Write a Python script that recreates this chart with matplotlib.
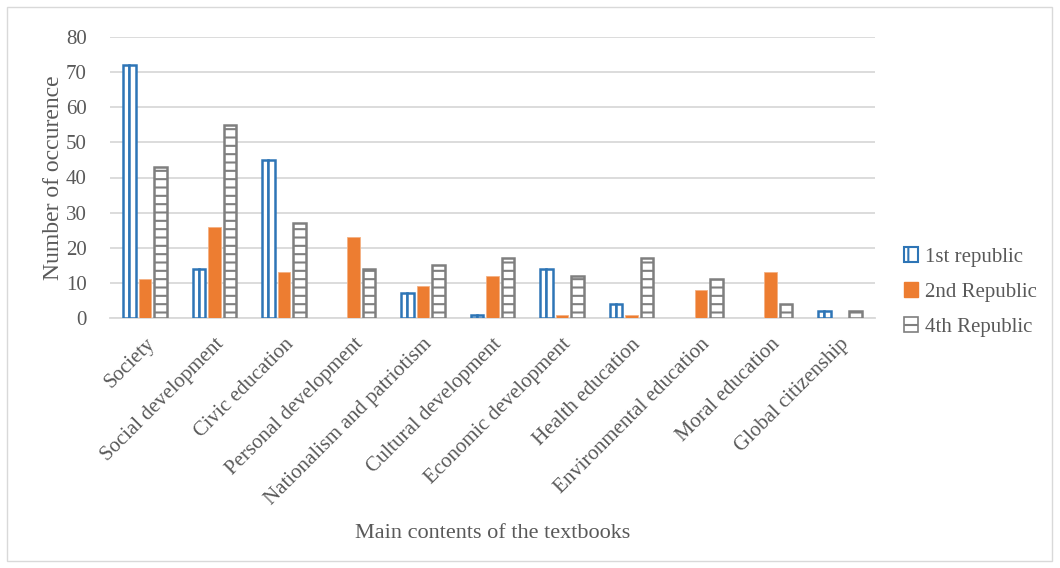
import numpy as np
import matplotlib
matplotlib.use("Agg")
import matplotlib.pyplot as plt
from matplotlib.patches import Patch, Rectangle

categories = ['Society', 'Social development', 'Civic education', 'Personal development',
              'Nationalism and patriotism', 'Cultural development', 'Economic development',
              'Health education', 'Environmental education', 'Moral education',
              'Global citizenship']
first_rep = [72, 14, 45, 0, 7, 1, 14, 4, 0, 0, 2]
second_rep = [11, 26, 13, 23, 9, 12, 1, 1, 8, 13, 0]
fourth_rep = [43, 55, 27, 14, 15, 17, 12, 17, 11, 4, 2]
series_names = ['1st republic', '2nd Republic', '4th Republic']

plt.rcParams['font.family'] = ['Liberation Serif', 'DejaVu Serif']
plt.rcParams['hatch.linewidth'] = 1.5

blue = '#2E75B6'
orange = '#ED7D31'
gray = '#7F7F7F'
text_c = '#595959'

fig = plt.figure(figsize=(10.6, 5.68), dpi=100)
ax = fig.add_axes([0.104, 0.44, 0.721, 0.495])

x = np.arange(len(categories))
w = 0.18
step = 0.223


def nz(vals):
    # keep only non-zero bars so empty values draw no edge line
    v = np.array(vals)
    m = v > 0
    return x[m], v[m]


x1, v1 = nz(first_rep)
x2, v2 = nz(second_rep)
x4, v4 = nz(fourth_rep)

# 1st republic: outlined bar split down the middle (two half bars)
ax.bar(x1 - step - w / 4, v1, w / 2, facecolor='white', edgecolor=blue, linewidth=1.8, zorder=3)
ax.bar(x1 - step + w / 4, v1, w / 2, facecolor='white', edgecolor=blue, linewidth=1.8, zorder=3)
ax.bar(x2, v2, w, color=orange, edgecolor='#F4B183', linewidth=0.6, zorder=3)
ax.bar(x4 + step, v4, w, facecolor='white', edgecolor=gray, hatch='--', linewidth=1.8, zorder=3)

ax.set_xlim(-0.5, len(categories) - 0.5)
ax.set_ylim(0, 80)
ax.set_yticks(range(0, 81, 10))
ax.yaxis.grid(True, color='#D9D9D9', linewidth=1.3, zorder=0)
ax.set_axisbelow(True)
for s in ['top', 'right', 'left']:
    ax.spines[s].set_visible(False)
ax.spines['bottom'].set_color('#D9D9D9')
ax.spines['bottom'].set_linewidth(1.3)
ax.tick_params(length=0, labelsize=15, colors=text_c)
ax.tick_params(axis='y', pad=17)
ax.tick_params(axis='x', pad=12)
ax.set_xticks(x)
ax.set_xticklabels(categories, rotation=45, ha='right', rotation_mode='anchor', fontsize=15)
ax.set_ylabel('Number of occurence', fontsize=17, color=text_c, labelpad=1)
fig.text(0.465, 0.052, 'Main contents of the textbooks', fontsize=16, color=text_c, ha='center')

handles = [Patch(facecolor='white', edgecolor=blue, hatch='|', linewidth=1.5),
           Patch(facecolor=orange, edgecolor=orange),
           Patch(facecolor='white', edgecolor=gray, hatch='-', linewidth=1.2)]
leg = ax.legend(handles, series_names, loc='center left', bbox_to_anchor=(0.835, 0.486),
                bbox_transform=fig.transFigure, frameon=False, fontsize=15,
                handlelength=0.7, handleheight=0.7, handletextpad=0.3, labelspacing=0.75)
for t in leg.get_texts():
    t.set_color(text_c)

fig.patches.append(Rectangle((0.007, 0.012), 0.985, 0.975, transform=fig.transFigure,
                             fill=False, edgecolor='#D9D9D9', linewidth=1))

fig.savefig('out.png', dpi=100)
